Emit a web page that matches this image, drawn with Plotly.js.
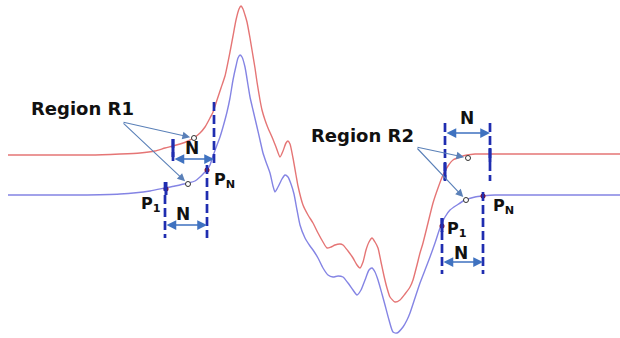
<!DOCTYPE html>
<html><head><meta charset="utf-8">
<script src="https://cdn.plot.ly/plotly-3.0.1.min.js"></script>
<style>html,body{margin:0;padding:0;background:#fff}#c{width:620px;height:338px}</style>
</head><body><div id="c"></div>
<script>
// Upper (red) signal (x, y in picture units, y downward)
const redX = [8,30,60,90,120,140,155,165,173,180,188,195,200,205,210,213,217,221,225,230,233,236,239,241,243,245,247,250,252,255,257,260,262,265,268,272,276,280,283,286,288,290,293,296,298,303,308,313,318,323,327,331,335,340,343,348,353,357,360,363,366,369,372,375,378,381,384,387,390,395,400,405,410,413,417,420,423,428,433,438,443,448,453,460,467,475,487,500,530,560,590,620];
const redY = [155,155,155,155,154,153,151,148,146,144,141,137,133,127,118,112,100,88,76,52,36,20,9,6,9,15,22,38,50,68,82,100,110,120,128,137,147,157,151,143,141,144,158,175,186,205,215,223,233,242,248,247,245,244,245,251,258,265,268,262,250,242,238,242,248,262,276,288,297,302,300,294,287,280,265,253,243,223,203,188,175,166,160,157,155,154,154,154,154,154,154,154];
// Lower (blue) signal
const blueX = [8,40,80,120,150,165,175,188,195,200,205,207,210,213,217,220,223,227,230,233,236,238,240,242,245,248,250,253,257,260,263,266,270,273,275,278,282,285,288,291,294,297,300,305,310,313,318,323,328,333,338,343,348,353,357,361,365,369,372,375,378,382,385,389,393,397,403,407,410,415,420,425,430,435,440,445,450,457,465,475,483,495,520,560,600,620];
const blueY = [195,195,195,194,191,188,186,183,181,177,172,170,165,156,145,137,127,112,98,80,66,58,55,57,67,85,97,110,127,140,153,162,173,186,192,187,179,175,177,184,194,210,225,238,246,250,258,268,275,277,276,277,283,290,295,290,280,270,268,272,280,294,305,320,332,333,327,320,313,298,283,270,257,243,228,217,210,205,200,197,196,195,195,195,195,195];
// Marked points P1 / PN (red dots) and region points (open circles)
const pX = [166,207,442,483];
const pY = [189,170,226,196];
const cX = [194,188,468,466];
const cY = [138,184,158,200];
// Region window guides: x of the two edges, top of each edge, shared bottom, arrow level
const guideL = [173,165,445,442];
const guideR = [214,207,490,483];
const topL = [139,182,123,218];
const topR = [102,165,123,192];
const bottom = [164,238,181,274];
const arrowY = [159,225,133,262];
const nLabelX = [192,183,467,461];
const nLabelY = [148,214,118,253];
const regionLabels = ['Region R1','Region R2'];
const regionLabelX = [82,362];
const regionLabelY = [108,135];
const regionTail = [[122,122],[416,147]];

const navy = '#1f2db0';
const arrowC = '#3f72c0';
const shapes = [];
for (let i=0;i<4;i++){
  shapes.push({type:'line',xref:'x',yref:'y',x0:guideL[i],x1:guideL[i],y0:topL[i],y1:bottom[i],line:{color:navy,width:2.7,dash:'9px,4px'}});
  shapes.push({type:'line',xref:'x',yref:'y',x0:guideR[i],x1:guideR[i],y0:topR[i],y1:bottom[i],line:{color:navy,width:2.7,dash:'9px,4px'}});
}
// thick solid ticks where the guides cross the curves
shapes.push({type:'line',xref:'x',yref:'y',x0:173,x1:173,y0:139,y1:157,line:{color:navy,width:3}});
shapes.push({type:'line',xref:'x',yref:'y',x0:445,x1:445,y0:163,y1:180,line:{color:navy,width:3}});
shapes.push({type:'line',xref:'x',yref:'y',x0:490,x1:490,y0:148,y1:162,line:{color:navy,width:3}});
shapes.push({type:'line',xref:'x',yref:'y',x0:166,x1:166,y0:182,y1:195,line:{color:navy,width:3}});
shapes.push({type:'line',xref:'x',yref:'y',x0:442,x1:442,y0:218,y1:232,line:{color:navy,width:3}});

const font = 'DejaVu Sans, Arial, sans-serif';
const ann = [];
for (let i=0;i<4;i++){
  ann.push({x:guideR[i],y:arrowY[i],ax:guideL[i],ay:arrowY[i],xref:'x',yref:'y',axref:'x',ayref:'y',text:'',showarrow:true,arrowside:'end+start',arrowhead:2,startarrowhead:2,arrowsize:1.3,startarrowsize:1.3,arrowwidth:1.5,arrowcolor:arrowC});
  ann.push({x:nLabelX[i],y:nLabelY[i],xref:'x',yref:'y',text:'<b>N</b>',showarrow:false,font:{family:font,size:17,color:'#111'}});
}
for (let r=0;r<2;r++){
  ann.push({x:regionLabelX[r],y:regionLabelY[r],xref:'x',yref:'y',text:'<b>'+regionLabels[r]+'</b>',showarrow:false,font:{family:font,size:18,color:'#111'}});
  for (let k=0;k<2;k++){
    const ci = r*2+k;
    ann.push({x:cX[ci],y:cY[ci],ax:regionTail[r][0],ay:regionTail[r][1],xref:'x',yref:'y',axref:'x',ayref:'y',text:'',showarrow:true,arrowhead:2,arrowsize:1.4,arrowwidth:1.1,arrowcolor:'#5a80b8',standoff:4});
  }
}
const pLabels = ['<b>P<sub>1</sub></b>','<b>P<sub>N</sub></b>','<b>P<sub>1</sub></b>','<b>P<sub>N</sub></b>'];
const pLX = [151,224,457,503];
const pLY = [204,180,229,206];
for (let i=0;i<4;i++) ann.push({x:pLX[i],y:pLY[i],xref:'x',yref:'y',text:pLabels[i],showarrow:false,font:{family:font,size:16,color:'#111'}});

const data = [
  {x:redX,y:redY,mode:'lines',line:{color:'#e57575',width:1.4,shape:'spline',smoothing:0.6},hoverinfo:'skip'},
  {x:blueX,y:blueY,mode:'lines',line:{color:'#8484e4',width:1.4,shape:'spline',smoothing:0.6},hoverinfo:'skip'},
  {x:cX,y:cY,mode:'markers',marker:{size:5,color:'#fff',line:{color:'#333',width:1}},hoverinfo:'skip'},
  {x:pX,y:pY,mode:'markers',marker:{size:5,color:'#8a1020'},hoverinfo:'skip'}
];
const layout = {
  width:620,height:338,margin:{l:0,r:0,t:0,b:0},showlegend:false,
  paper_bgcolor:'#fff',plot_bgcolor:'#fff',
  xaxis:{range:[0,620],visible:false,fixedrange:true},
  yaxis:{range:[338,0],visible:false,fixedrange:true},
  shapes:shapes,annotations:ann
};
Plotly.newPlot('c',data,layout,{staticPlot:true});
</script></body></html>
